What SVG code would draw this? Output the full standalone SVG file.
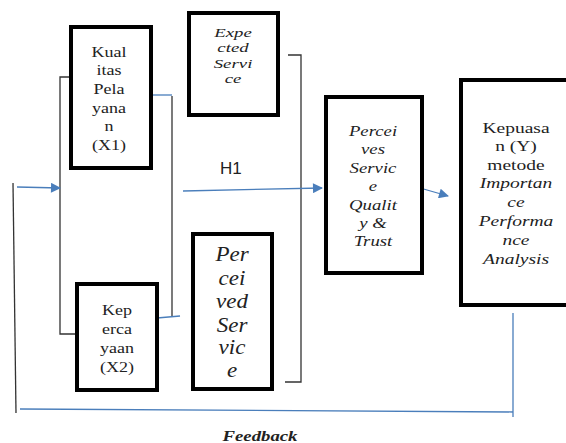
<svg xmlns="http://www.w3.org/2000/svg" width="566" height="443" viewBox="0 0 566 443">
<defs>
<style>
.box{fill:#fff;stroke:#000;stroke-width:4}
.t{font-family:"Liberation Serif","DejaVu Serif","Times New Roman",serif;font-size:15px;fill:#222;text-anchor:middle}
.i{font-style:italic}
.blk{fill:none;stroke:#333;stroke-width:1.3}
.blu{fill:none;stroke:#4a7ebb;stroke-width:1.3}
</style>
<marker id="ah" viewBox="0 0 10 10" refX="9" refY="5" markerWidth="12" markerHeight="10" markerUnits="userSpaceOnUse" orient="auto">
<path d="M0,0 L10,5 L0,10 z" fill="#4a7ebb"/>
</marker>
</defs>
<rect width="566" height="443" fill="#fff"/>
<g id="connectors">
<path class="blk" d="M71,77 H60 V334 H77"/>
<path class="blu" d="M151,95 H172"/>
<path class="blk" d="M172,96 V316"/>
<path class="blu" d="M157,318 L180,316"/>
<path class="blk" d="M288,55 H301 V382 H285"/>
<path class="blu" d="M17,187 L60,188" marker-end="url(#ah)"/>
<path class="blu" d="M183,191 L322,188" marker-end="url(#ah)"/>
<path class="blu" d="M420,188 L448,196" marker-end="url(#ah)"/>
<path class="blk" d="M13,183 L16,413"/>
<path class="blu" d="M20,409 L513,412 M513,313 V417"/>
<text x="220" y="174" style="font-family:'Liberation Sans',Arial,sans-serif;font-size:17px;fill:#222">H1</text>
<g transform="translate(260,0) scale(1.25,1)"><text x="0" y="441" class="t i" style="font-weight:bold;font-size:15px">Feedback</text></g>
</g>
<g id="x1">
<rect class="box" x="71" y="27" width="80" height="141"/>
<g transform="translate(109,0) scale(1.2,1)"><text class="t"><tspan x="0" y="57">Kual</tspan><tspan x="0" y="75">itas</tspan><tspan x="0" y="94">Pela</tspan><tspan x="0" y="113">yana</tspan><tspan x="0" y="131">n</tspan><tspan x="0" y="150">(X1)</tspan></text></g>
</g>
<g id="x2">
<rect class="box" x="77" y="284" width="80" height="106"/>
<g transform="translate(117,0) scale(1.2,1)"><text class="t"><tspan x="0" y="315">Kep</tspan><tspan x="0" y="334">erca</tspan><tspan x="0" y="353">yaan</tspan><tspan x="0" y="372">(X2)</tspan></text></g>
</g>
<g id="expected">
<rect class="box" x="189" y="13" width="89" height="102"/>
<g transform="translate(233,0) scale(1.45,1)"><text class="t i" style="font-size:13px"><tspan x="0" y="37">Expe</tspan><tspan x="0" y="52">cted</tspan><tspan x="0" y="68">Servi</tspan><tspan x="0" y="83">ce</tspan></text></g>
</g>
<g id="perceived">
<rect class="box" x="193" y="234" width="79" height="155"/>
<g transform="translate(232,0) scale(1.15,1)"><text class="t i" style="font-size:20px"><tspan x="0" y="261">Per</tspan><tspan x="0" y="285">cei</tspan><tspan x="0" y="308">ved</tspan><tspan x="0" y="332">Ser</tspan><tspan x="0" y="354">vic</tspan><tspan x="0" y="377">e</tspan></text></g>
</g>
<g id="perceives">
<rect class="box" x="326" y="97" width="96" height="176"/>
<g transform="translate(373,0) scale(1.25,1)"><text class="t i" style="font-size:15px"><tspan x="0" y="136">Percei</tspan><tspan x="0" y="154">ves</tspan><tspan x="0" y="173">Servic</tspan><tspan x="0" y="191">e</tspan><tspan x="0" y="210">Qualit</tspan><tspan x="0" y="228">y &amp;</tspan><tspan x="0" y="246">Trust</tspan></text></g>
</g>
<g id="kepuasan">
<rect class="box" x="461" y="80" width="120" height="225"/>
<g transform="translate(516,0) scale(1.3,1)"><text class="t"><tspan x="0" y="133">Kepuasa</tspan><tspan x="0" y="151">n (Y)</tspan><tspan x="0" y="170">metode</tspan><tspan x="0" y="188" font-style="italic">Importan</tspan><tspan x="0" y="207" font-style="italic">ce</tspan><tspan x="0" y="226" font-style="italic">Performa</tspan><tspan x="0" y="245" font-style="italic">nce</tspan><tspan x="0" y="264" font-style="italic">Analysis</tspan></text></g>
</g>
</svg>
